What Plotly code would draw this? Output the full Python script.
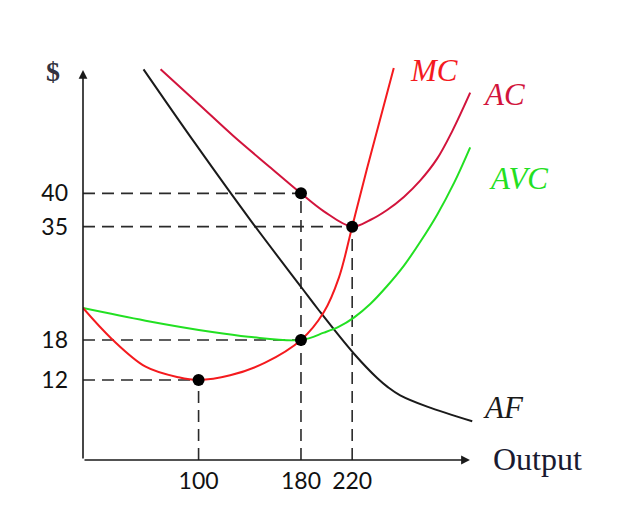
import plotly.graph_objects as go

# ---- data ----
x_ticks = [100, 180, 220]
y_ticks = [12, 18, 35, 40]

# marked points (dots) with dashed guides
pt_x = [100, 180, 180, 220]
pt_y = [12, 18, 40, 35]

# MC curve
mc_x = [9.7, 32.0, 58.6, 84.4, 100, 124.7, 152.0, 180, 197.9, 209.7, 220, 231.7, 252.5]
mc_y = [22.8, 18.2, 14.0, 12.4, 12, 12.7, 14.6, 18, 22.2, 27.4, 35, 43.8, 58.8]

# AC curve
ac_x = [70.3, 100, 127.2, 155.3, 180, 197.9, 220, 234.1, 247.3, 260.6, 273.1, 286.4, 298.1, 312.2]
ac_y = [58.6, 53.4, 48.6, 44.0, 40, 37.3, 35, 36.0, 37.5, 39.5, 41.9, 45.2, 49.3, 55.1]

# AVC curve
avc_x = [9.7, 58.6, 110.7, 138.8, 180, 197.9, 209.7, 221.6, 234.1, 247.3, 260.6, 273.1, 286.4, 299.7, 312.2]
avc_y = [22.8, 20.9, 19.2, 18.5, 18, 19.1, 20.0, 21.4, 23.4, 26.1, 29.2, 32.7, 36.8, 41.6, 46.9]

# AF curve
af_x = [57.0, 96.9, 141.2, 180.7, 193.8, 221.6, 239.5, 248.1, 257.5, 278.6, 313.8]
af_y = [58.6, 47.6, 35.8, 25.8, 22.5, 15.9, 12.3, 10.9, 9.7, 8.0, 5.8]

X0 = 9.7          # where the vertical axis sits
X_END = 312       # x-axis arrow tip
Y_END = 58.5      # y-axis arrow tip

RED = "#f41a1e"
CRIMSON = "#d2143c"
GREEN = "#22e022"
BLACK = "#1a1a1a"

fig = go.Figure()

# dashed guide lines
dash_style = dict(color="#2a2a2a", width=1.6, dash="12px,7px")
for x, y in zip(pt_x, pt_y):
    fig.add_shape(type="line", x0=X0, x1=x, y0=y, y1=y, xref="x", yref="y",
                  line=dash_style, layer="below")
top_at_x = {}
for x, y in zip(pt_x, pt_y):
    top_at_x[x] = max(top_at_x.get(x, 0), y)
for x, y in top_at_x.items():
    fig.add_shape(type="line", x0=x, x1=x, y0=0, y1=y, xref="x", yref="y",
                  line=dash_style, layer="below")

def curve(xs, ys, color, name):
    fig.add_trace(go.Scatter(x=xs, y=ys, mode="lines", name=name,
                             line=dict(color=color, width=2, shape="spline", smoothing=1.0),
                             hoverinfo="skip", showlegend=False))

curve(af_x, af_y, BLACK, "AF")
curve(avc_x, avc_y, GREEN, "AVC")
curve(ac_x, ac_y, CRIMSON, "AC")
curve(mc_x, mc_y, RED, "MC")

fig.add_trace(go.Scatter(x=pt_x, y=pt_y, mode="markers",
                         marker=dict(color="black", size=12),
                         hoverinfo="skip", showlegend=False))

# axes with arrows
fig.add_annotation(x=X_END, y=0, ax=X0, ay=0, xref="x", yref="y", axref="x", ayref="y",
                   showarrow=True, arrowhead=2, arrowsize=1.1, arrowwidth=1.6,
                   arrowcolor=BLACK, text="", standoff=0, startstandoff=0)
fig.add_annotation(x=X0, y=Y_END, ax=X0, ay=0, xref="x", yref="y", axref="x", ayref="y",
                   showarrow=True, arrowhead=2, arrowsize=1.1, arrowwidth=1.6,
                   arrowcolor=BLACK, text="", standoff=0, startstandoff=0)

serif = "Liberation Serif"
def label(text, px, py, color, size=31):
    # px, py are window pixel positions; plot area spans x 83..606, y 50..460 in the window
    fig.add_annotation(x=(px - 83) / 523, y=(460 - py) / 410, xref="paper", yref="paper",
                       text=text, showarrow=False,
                       font=dict(family=serif, size=size, color=color),
                       xanchor="center", yanchor="middle")

label("<i>MC</i>", 434, 70, RED)
label("<i>AC</i>", 504, 94, CRIMSON)
label("<i>AVC</i>", 518, 179, GREEN)
label("<i>AF</i>", 503, 407, BLACK)
label("Output", 537, 459, "#1a1a30", size=32)
label("<b>$</b>", 53, 71, "#333340", size=28)

# the page body adds an 8px offset, so the figure is 8px smaller than the window
fig.update_layout(
    width=618, height=514,
    margin=dict(l=75, r=20, t=42, b=62, autoexpand=False),
    paper_bgcolor="white", plot_bgcolor="white",
    showlegend=False,
    xaxis=dict(range=[X0, 418.3], showgrid=False, zeroline=False, showline=False,
               automargin=False,
               tickvals=x_ticks, ticktext=[str(v) for v in x_ticks], ticks="",
               tickfont=dict(family="Lato", size=23, color="#111111"),
               ticklabelstandoff=5),
    yaxis=dict(range=[0, 61.5], showgrid=False, zeroline=False, showline=False,
               automargin=False,
               tickvals=y_ticks, ticktext=[str(v) for v in y_ticks], ticks="",
               tickfont=dict(family="Lato", size=23, color="#111111"),
               ticklabelstandoff=14),
)

fig.write_html("out.html")
